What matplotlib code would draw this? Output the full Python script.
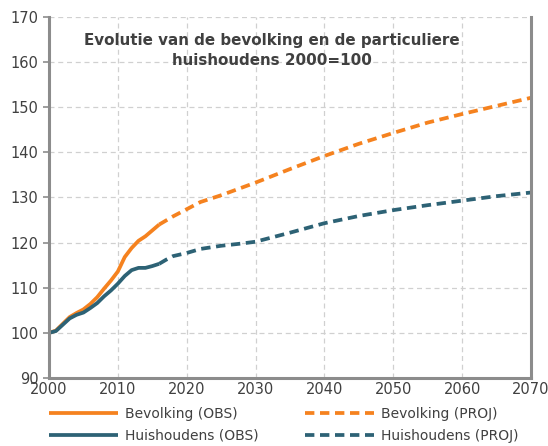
import matplotlib
matplotlib.use("Agg")
import matplotlib.pyplot as plt

# observed series 2000-2016
obs_years = list(range(2000, 2017))
bev_obs = [100, 100.5, 102.0, 103.5, 104.4, 105.2, 106.4, 107.9, 109.8, 111.6,
           113.6, 116.8, 118.8, 120.4, 121.4, 122.7, 124.0]
huis_obs = [100, 100.4, 101.8, 103.2, 104.0, 104.5, 105.5, 106.6, 108.1, 109.4,
            110.9, 112.6, 113.9, 114.4, 114.4, 114.8, 115.3]

# projections
bev_proj_years = [2016, 2018, 2020, 2022, 2025, 2030, 2035, 2040, 2045, 2050, 2055, 2060, 2065, 2070]
bev_proj = [124.0, 125.8, 127.4, 129.0, 130.5, 133.3, 136.3, 139.2, 141.9, 144.3, 146.6, 148.5, 150.3, 152.1]
huis_proj_years = [2016, 2017, 2018, 2020, 2022, 2025, 2028, 2030, 2035, 2040, 2045, 2050, 2055, 2060, 2065, 2070]
huis_proj = [115.3, 116.2, 117.0, 117.7, 118.6, 119.3, 119.8, 120.2, 122.2, 124.3, 125.9, 127.2, 128.3, 129.3, 130.3, 131.1]

orange = "#F5821F"
teal = "#2D6275"
txt = "#404040"

plt.rcParams['font.family'] = ['DejaVu Sans']

fig = plt.figure(figsize=(5.48, 4.46), dpi=100)
ax = fig.add_axes([0.0894, 0.1525, 0.8796, 0.8094])

lw = 2.7
ax.plot(obs_years, bev_obs, color=orange, lw=lw, label="Bevolking (OBS)", solid_capstyle="butt")
ax.plot(obs_years, huis_obs, color=teal, lw=lw, label="Huishoudens (OBS)", solid_capstyle="butt")
ax.plot(bev_proj_years, bev_proj, color=orange, lw=lw, dashes=(2.5, 1.5), label="Bevolking (PROJ)")
ax.plot(huis_proj_years, huis_proj, color=teal, lw=lw, dashes=(2.5, 1.5), label="Huishoudens (PROJ)")

ax.set_xlim(2000, 2070)
ax.set_ylim(90, 170)
ax.set_xticks(range(2000, 2071, 10))
ax.set_yticks(range(90, 171, 10))
ax.grid(True, color="#d0d0d0", linestyle=(0, (4, 3)), linewidth=0.9)
ax.set_axisbelow(True)

for side in ["left", "right", "bottom"]:
    ax.spines[side].set_color("#8c8c8c")
    ax.spines[side].set_linewidth(2.2)
ax.spines["top"].set_visible(False)
ax.tick_params(axis="y", colors="#8c8c8c", labelcolor=txt, labelsize=10.5, length=4, width=1.2)
ax.tick_params(axis="x", colors="#8c8c8c", labelcolor=txt, labelsize=10.5, length=0, pad=3)

ax.text(0.463, 0.955, "Evolutie van de bevolking en de particuliere\nhuishoudens 2000=100",
        transform=ax.transAxes, ha="center", va="top", fontsize=10.9,
        fontweight="bold", color=txt, linespacing=1.4)

fig.legend(loc="lower left", bbox_to_anchor=(0.066, -0.021), ncol=2, frameon=False,
           handlelength=5.0, columnspacing=3.3, fontsize=10, labelcolor=txt,
           handletextpad=0.5, labelspacing=0.6)

fig.savefig("out.png", dpi=100)
